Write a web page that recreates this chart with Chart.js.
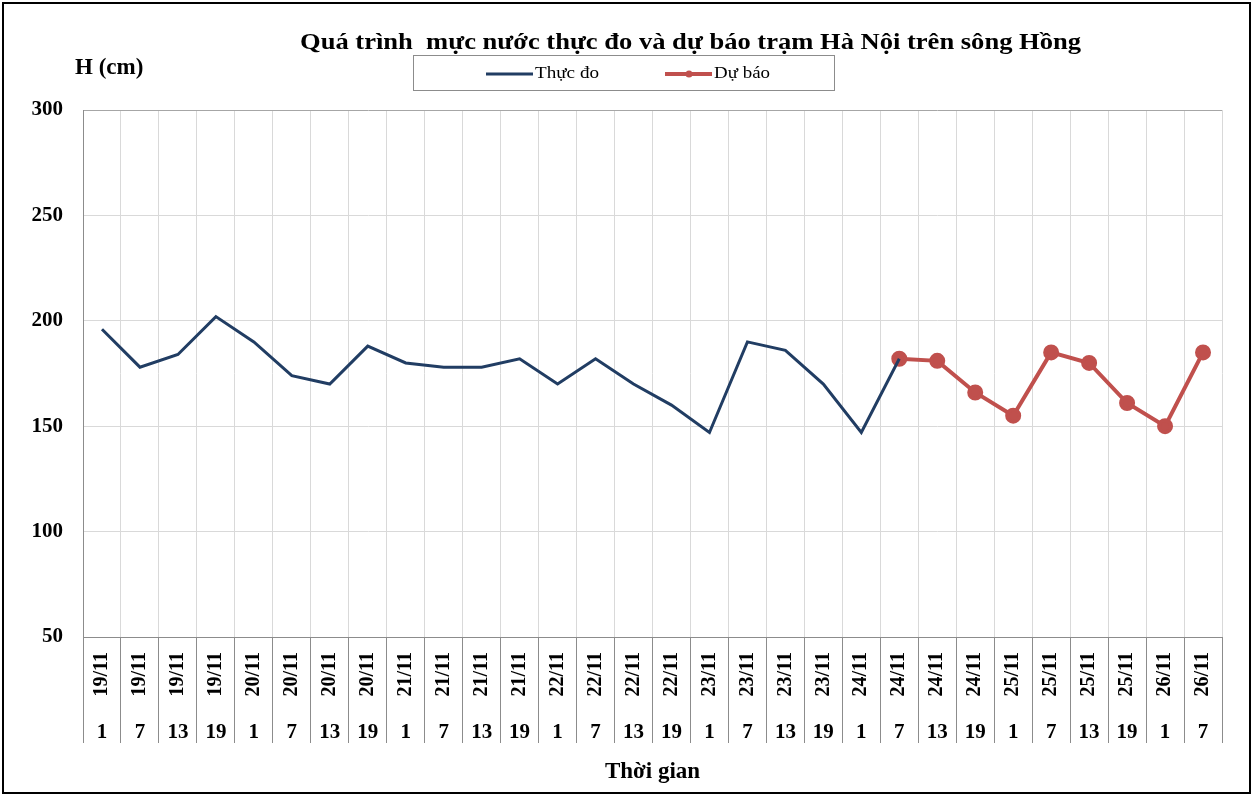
<!DOCTYPE html>
<html>
<head>
<meta charset="utf-8">
<script src="https://cdn.jsdelivr.net/npm/chart.js@4.4.0/dist/chart.umd.min.js"></script>
<style>
  body { margin: 0; background: #fff; }
  #wrap { width: 1256px; height: 795px; }
</style>
</head>
<body>
<div id="wrap"><canvas id="myCanvas" width="1256" height="795"></canvas></div>
<script>
// categories
var ngay = ["19/11", "19/11", "19/11", "19/11", "20/11", "20/11", "20/11", "20/11",
    "21/11", "21/11", "21/11", "21/11", "22/11", "22/11", "22/11", "22/11",
    "23/11", "23/11", "23/11", "23/11", "24/11", "24/11", "24/11", "24/11",
    "25/11", "25/11", "25/11", "25/11", "26/11", "26/11"];
var gio = ["1", "7", "13", "19", "1", "7", "13", "19", "1", "7", "13", "19", "1", "7", "13", "19",
    "1", "7", "13", "19", "1", "7", "13", "19", "1", "7", "13", "19", "1", "7"];

// water level (cm)
var thucDo = [196, 178, 184, 202, 190, 174, 170, 188, 180, 178, 178, 182, 170, 182, 170, 160,
    147, 190, 186, 170, 147, 182, null, null, null, null, null, null, null, null];
var duBao = [null, null, null, null, null, null, null, null, null, null, null, null, null, null, null, null,
    null, null, null, null, null, 182, 181, 166, 155, 185, 180, 161, 150, 185];

var yTicks = [50, 100, 150, 200, 250, 300];

var serif = "'Liberation Serif', 'Times New Roman', serif";

// text stretched to a given width (the original picture is a bit wider than tall)
function wideText(ctx, txt, x, y, w) {
    var m = ctx.measureText(txt).width;
    ctx.save();
    ctx.translate(x, y);
    ctx.scale(w / m, 1);
    ctx.fillText(txt, 0, 0);
    ctx.restore();
}

// title, legend, axis titles and frame
var decor = {
    id: 'decor',
    afterDraw: function (chart) {
        var ctx = chart.ctx;
        var ca = chart.chartArea;
        ctx.save();
        ctx.fillStyle = '#000';
        ctx.textBaseline = 'alphabetic';

        ctx.font = "bold 23px " + serif;
        ctx.textAlign = 'left';
        wideText(ctx, "Quá trình  mực nước thực đo và dự báo trạm Hà Nội trên sông Hồng", 300, 49, 781);

        ctx.font = "bold 23px " + serif;
        ctx.textAlign = 'left';
        ctx.fillText("H (cm)", 75, 74);

        ctx.textAlign = 'center';
        ctx.fillText("Thời gian", (ca.left + ca.right) / 2, 778);

        // legend box
        ctx.strokeStyle = '#8c8c8c';
        ctx.lineWidth = 1;
        ctx.strokeRect(413.5, 55.5, 421, 35);

        var ds = chart.data.datasets;
        var starts = [486, 665];
        var widths = [64, 56];
        ctx.font = "17px " + serif;
        ctx.textAlign = 'left';
        ctx.textBaseline = 'middle';
        ds.forEach(function (d, i) {
            var x = starts[i];
            ctx.strokeStyle = d.borderColor;
            ctx.lineWidth = d.borderWidth;
            ctx.beginPath();
            ctx.moveTo(x, 74);
            ctx.lineTo(x + 47, 74);
            ctx.stroke();
            if (d.pointRadius > 0) {
                ctx.fillStyle = d.borderColor;
                ctx.beginPath();
                ctx.arc(x + 24, 74, 3.5, 0, Math.PI * 2);
                ctx.fill();
            }
            ctx.fillStyle = '#000';
            wideText(ctx, d.label, x + 49, 74, widths[i]);
        });

        // outer frame
        ctx.strokeStyle = '#000';
        ctx.lineWidth = 2;
        ctx.strokeRect(3, 3, 1247, 790);
        ctx.restore();
    }
};

new Chart(document.getElementById("myCanvas"), {
    type: 'line',
    data: {
        labels: ngay,
        datasets: [
            {
                label: "Thực đo",
                data: thucDo,
                borderColor: "#213D63",
                backgroundColor: "#213D63",
                borderWidth: 3,
                pointRadius: 0,
                tension: 0
            },
            {
                label: "Dự báo",
                data: duBao,
                borderColor: "#C0504D",
                backgroundColor: "#C0504D",
                borderWidth: 4,
                pointRadius: 6,
                pointHoverRadius: 6,
                tension: 0
            }
        ]
    },
    options: {
        responsive: false,
        animation: false,
        layout: {padding: {top: 110, right: 34, left: 23, bottom: 52}},
        plugins: {
            legend: {display: false},
            title: {display: false},
            tooltip: {enabled: false}
        },
        scales: {
            x: {
                type: 'category',
                position: 'bottom',
                offset: true,
                grid: {
                    offset: true,
                    color: function (c) { return c.index === ngay.length ? '#8c8c8c' : '#d9d9d9'; },
                    tickColor: '#8c8c8c',
                    tickLength: 65,
                    lineWidth: 1
                },
                border: {color: '#8c8c8c'},
                ticks: {
                    autoSkip: false,
                    minRotation: 90,
                    maxRotation: 90,
                    padding: -50,
                    color: '#000',
                    font: {family: serif, size: 20, weight: 'bold'}
                },
                afterFit: function (s) { s.height = 65; }
            },
            x2: {
                type: 'category',
                position: 'bottom',
                labels: gio,
                offset: true,
                grid: {
                    offset: true,
                    drawOnChartArea: false,
                    tickColor: '#8c8c8c',
                    tickLength: 41
                },
                border: {display: false},
                ticks: {
                    autoSkip: false,
                    maxRotation: 0,
                    padding: -23,
                    color: '#000',
                    font: {family: serif, size: 21, weight: 'bold'}
                },
                afterFit: function (s) { s.height = 41; }
            },
            y: {
                min: 50,
                max: 300,
                afterBuildTicks: function (s) {
                    s.ticks = yTicks.map(function (v) { return {value: v}; });
                },
                grid: {
                    color: function (c) { return c.tick && c.tick.value === 300 ? '#a6a6a6' : '#d9d9d9'; },
                    drawTicks: false
                },
                border: {color: '#8c8c8c'},
                ticks: {
                    padding: 20,
                    color: '#000',
                    font: {family: serif, size: 21, weight: 'bold'}
                },
                afterFit: function (s) { s.width = 60; }
            }
        }
    },
    plugins: [decor]
});
</script>
</body>
</html>
